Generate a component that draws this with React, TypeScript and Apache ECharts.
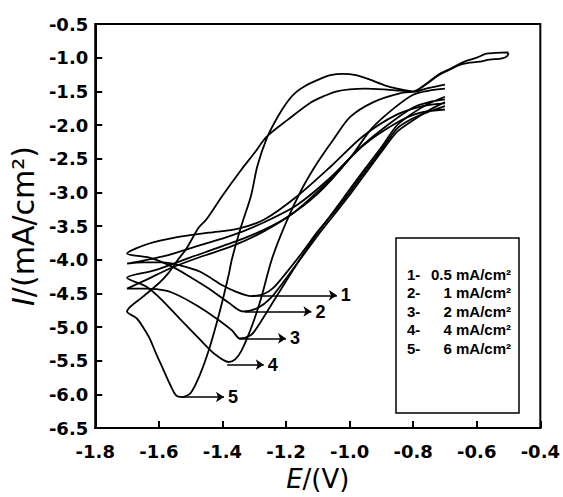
import React, { useEffect, useRef } from 'react';
import * as echarts from 'echarts';

type P = [number, number];

// Curve 1 : 0.5 mA/cm2
const curve1Cathodic: P[] = [
  [-0.70, -1.72], [-0.75, -1.80], [-0.80, -1.90], [-0.85, -2.05], [-0.90, -2.37], [-0.95, -2.68],
  [-1.00, -3.00], [-1.05, -3.30], [-1.10, -3.58], [-1.15, -3.90], [-1.20, -4.20], [-1.24, -4.42],
  [-1.27, -4.51], [-1.31, -4.54], [-1.36, -4.47], [-1.40, -4.38], [-1.47, -4.18], [-1.536, -4.08],
  [-1.59, -4.04], [-1.65, -4.04], [-1.70, -4.06],
];
const curve1Anodic: P[] = [
  [-1.70, -4.06], [-1.577, -3.94], [-1.474, -3.79], [-1.37, -3.64], [-1.267, -3.44], [-1.163, -3.18],
  [-1.06, -2.78], [-0.956, -2.30], [-0.853, -1.97], [-0.78, -1.82], [-0.70, -1.77],
];
// Curve 2 : 1 mA/cm2
const curve2Cathodic: P[] = [
  [-0.70, -1.66], [-0.75, -1.78], [-0.80, -1.93], [-0.85, -2.10], [-0.90, -2.40], [-0.95, -2.72],
  [-1.00, -3.04], [-1.05, -3.34], [-1.10, -3.64], [-1.15, -3.96], [-1.20, -4.28], [-1.25, -4.58],
  [-1.29, -4.72], [-1.335, -4.77], [-1.38, -4.64], [-1.443, -4.43], [-1.50, -4.26], [-1.56, -4.10],
  [-1.63, -3.97], [-1.70, -3.91],
];
const curve2Anodic: P[] = [
  [-1.70, -3.91], [-1.63, -3.76], [-1.546, -3.67], [-1.443, -3.60], [-1.35, -3.54], [-1.267, -3.40],
  [-1.163, -3.05], [-1.06, -2.62], [-0.956, -2.16], [-0.853, -1.85], [-0.77, -1.72], [-0.70, -1.68],
];
// Curve 3 : 2 mA/cm2
const curve3Cathodic: P[] = [
  [-0.70, -1.58], [-0.75, -1.68], [-0.80, -1.82], [-0.85, -2.00], [-0.90, -2.33], [-0.95, -2.64],
  [-1.00, -2.96], [-1.05, -3.28], [-1.10, -3.60], [-1.15, -3.95], [-1.20, -4.32], [-1.25, -4.70],
  [-1.29, -5.00], [-1.31, -5.12], [-1.345, -5.17], [-1.37, -5.05], [-1.42, -4.87], [-1.474, -4.70],
  [-1.53, -4.55], [-1.578, -4.46], [-1.64, -4.43], [-1.70, -4.43],
];
const curve3Anodic: P[] = [
  [-1.70, -4.43], [-1.64, -4.30], [-1.56, -4.12], [-1.47, -3.96], [-1.37, -3.80], [-1.27, -3.58],
  [-1.17, -3.28], [-1.07, -2.85], [-0.97, -2.35], [-0.88, -2.00], [-0.80, -1.74], [-0.75, -1.66],
  [-0.70, -1.62],
];
// Curve 4 : 4 mA/cm2
const curve4Cathodic: P[] = [
  [-0.70, -1.40], [-0.75, -1.45], [-0.79, -1.50], [-0.842, -1.53], [-0.925, -1.66], [-0.998, -1.88],
  [-1.05, -2.21], [-1.10, -2.55], [-1.15, -2.95], [-1.20, -3.45], [-1.245, -4.00], [-1.28, -4.60],
  [-1.31, -5.02], [-1.34, -5.35], [-1.36, -5.48], [-1.38, -5.52], [-1.422, -5.41], [-1.474, -5.17],
  [-1.536, -4.87], [-1.59, -4.60], [-1.64, -4.40], [-1.70, -4.27],
];
const curve4Anodic: P[] = [
  [-1.70, -4.27], [-1.614, -4.16], [-1.502, -3.97], [-1.40, -3.80], [-1.30, -3.62], [-1.20, -3.38],
  [-1.10, -3.02], [-1.00, -2.50], [-0.93, -2.05], [-0.86, -1.75], [-0.80, -1.55], [-0.75, -1.49],
  [-0.70, -1.46],
];
// Curve 5 : 6 mA/cm2
const curve5Cathodic: P[] = [
  [-0.50, -0.92], [-0.54, -0.93], [-0.57, -0.94], [-0.60, -1.00], [-0.64, -1.06], [-0.69, -1.18],
  [-0.72, -1.25], [-0.76, -1.39], [-0.80, -1.50], [-0.85, -1.46], [-0.89, -1.41], [-0.94, -1.32],
  [-0.98, -1.26], [-1.02, -1.24], [-1.06, -1.26], [-1.10, -1.33], [-1.14, -1.42], [-1.17, -1.52],
  [-1.195, -1.65], [-1.225, -1.87], [-1.26, -2.19], [-1.29, -2.61], [-1.31, -3.05], [-1.34, -3.49],
  [-1.37, -3.99], [-1.38, -4.22], [-1.41, -4.80], [-1.44, -5.30], [-1.47, -5.70], [-1.50, -5.98],
  [-1.526, -6.04], [-1.545, -6.02], [-1.565, -5.85], [-1.588, -5.61], [-1.61, -5.38], [-1.629, -5.17],
  [-1.65, -5.00], [-1.67, -4.87], [-1.70, -4.77],
];
const curve5Anodic: P[] = [
  [-1.70, -4.77], [-1.65, -4.55], [-1.60, -4.35], [-1.57, -4.20], [-1.54, -4.00], [-1.515, -3.85],
  [-1.474, -3.52], [-1.45, -3.40], [-1.40, -3.05], [-1.34, -2.66], [-1.30, -2.42], [-1.26, -2.17],
  [-1.194, -1.92], [-1.123, -1.67], [-1.08, -1.57], [-1.04, -1.50], [-1.00, -1.47], [-0.95, -1.46],
  [-0.894, -1.47], [-0.84, -1.49], [-0.80, -1.50], [-0.76, -1.40], [-0.72, -1.26], [-0.69, -1.19],
  [-0.65, -1.10], [-0.63, -1.08], [-0.59, -1.06], [-0.56, -1.03], [-0.52, -1.01], [-0.505, -0.98],
  [-0.50, -0.93],
];

const curves: P[][] = [
  [...curve1Cathodic, ...curve1Anodic],
  [...curve2Cathodic, ...curve2Anodic],
  [...curve3Cathodic, ...curve3Anodic],
  [...curve4Cathodic, ...curve4Anodic],
  [...curve5Cathodic, ...curve5Anodic],
];

const arrowLabels = ['1', '2', '3', '4', '5'];
const arrowStartE = [-1.309, -1.329, -1.347, -1.385, -1.527];
const arrowEndE = [-1.04, -1.12, -1.2, -1.27, -1.395];
const arrowI = [-4.53, -4.77, -5.17, -5.56, -6.04];

const legendIds = ['1-', '2-', '3-', '4-', '5-'];
const legendValues = ['0.5 mA/cm²', '1 mA/cm²', '2 mA/cm²', '4 mA/cm²', '6 mA/cm²'];

const xMin = -1.8, xMax = -0.4, xStep = 0.2;
const yMin = -6.5, yMax = -0.5, yStep = 0.5;

export default function App() {
  const ref = useRef<HTMLDivElement>(null);
  useEffect(() => {
    document.body.style.margin = '0';
    if (!ref.current) return;
    const chart = echarts.init(ref.current, undefined, { renderer: 'svg' });
    const tickFont = 'DejaVu Sans';
    const legendFontCss = "bold 15px 'Liberation Sans', Arial, sans-serif";
    const lineSeries = curves.map((data, i) => ({
      type: 'line',
      name: 'curve' + (i + 1),
      data,
      showSymbol: false,
      symbol: 'none',
      smooth: 0.3,
      lineStyle: { color: '#000', width: 1.8 },
      z: 2,
    }));
    const legendRowY = [274, 292.5, 311, 329.5, 348];
    const graphics: any[] = [
      {
        type: 'rect',
        shape: { x: 396, y: 238, width: 123, height: 175 },
        style: { fill: '#fff', stroke: '#000', lineWidth: 1.5 },
        z: 10,
      },
    ];
    legendIds.forEach((id, i) => {
      graphics.push({
        type: 'text',
        x: 407,
        y: legendRowY[i],
        style: {
          text: id,
          font: legendFontCss,
          fill: '#000',
          verticalAlign: 'middle',
          align: 'left',
        },
        z: 11,
      });
      graphics.push({
        type: 'text',
        x: 511,
        y: legendRowY[i],
        style: {
          text: legendValues[i],
          font: legendFontCss,
          fill: '#000',
          verticalAlign: 'middle',
          align: 'right',
        },
        z: 11,
      });
    });

    chart.setOption({
      animation: false,
      backgroundColor: '#fff',
      grid: { left: 95, right: 17, top: 24, bottom: 67, show: true, borderColor: '#000', borderWidth: 2 },
      xAxis: {
        type: 'value',
        min: xMin,
        max: xMax,
        interval: xStep,
        axisLine: { show: true, onZero: false, lineStyle: { color: '#000', width: 2 } },
        axisTick: { show: true, inside: true, length: 7, lineStyle: { color: '#000', width: 2 } },
        axisLabel: {
          formatter: (v: number) => v.toFixed(1),
          color: '#000',
          fontSize: 18,
          fontWeight: 'bold',
          fontFamily: tickFont,
          margin: 14,
        },
        splitLine: { show: false },
        name: '{i|E}{n|/(V)}',
        nameLocation: 'middle',
        nameGap: 38,
        nameTextStyle: {
          rich: {
            i: { fontStyle: 'italic', fontSize: 26, fontFamily: tickFont, color: '#000' },
            n: { fontSize: 26, fontFamily: tickFont, color: '#000' },
          },
        },
      },
      yAxis: {
        type: 'value',
        min: yMin,
        max: yMax,
        interval: yStep,
        axisLine: { show: true, onZero: false, lineStyle: { color: '#000', width: 2 } },
        axisTick: { show: true, inside: true, length: 7, lineStyle: { color: '#000', width: 2 } },
        axisLabel: {
          formatter: (v: number) => v.toFixed(1),
          color: '#000',
          fontSize: 18,
          fontWeight: 'bold',
          fontFamily: tickFont,
          margin: 7,
        },
        splitLine: { show: false },
        name: '{i|I}{n|/(mA/cm²)}',
        nameLocation: 'middle',
        nameGap: 52,
        nameRotate: 90,
        nameTextStyle: {
          rich: {
            i: { fontStyle: 'italic', fontSize: 30, fontFamily: tickFont, color: '#000' },
            n: { fontSize: 30, fontFamily: tickFont, color: '#000' },
          },
        },
      },
      series: [
        ...lineSeries,
        {
          type: 'lines',
          coordinateSystem: 'cartesian2d',
          symbol: ['none', 'arrow'],
          symbolSize: 8,
          lineStyle: { color: '#000', width: 1.5, opacity: 1, curveness: 0 },
          label: {
            show: true,
            position: 'end',
            distance: 4,
            formatter: (p: any) => p.name,
            fontFamily: 'Liberation Sans',
            fontWeight: 'bold',
            fontSize: 18,
            color: '#000',
          },
          data: arrowLabels.map((name, i) => ({
            name,
            coords: [
              [arrowStartE[i], arrowI[i]],
              [arrowEndE[i], arrowI[i]],
            ],
          })),
          z: 3,
        },
      ],
      graphic: graphics,
    });
    return () => chart.dispose();
  }, []);
  return <div ref={ref} style={{ width: 563, height: 497 }} />;
}
